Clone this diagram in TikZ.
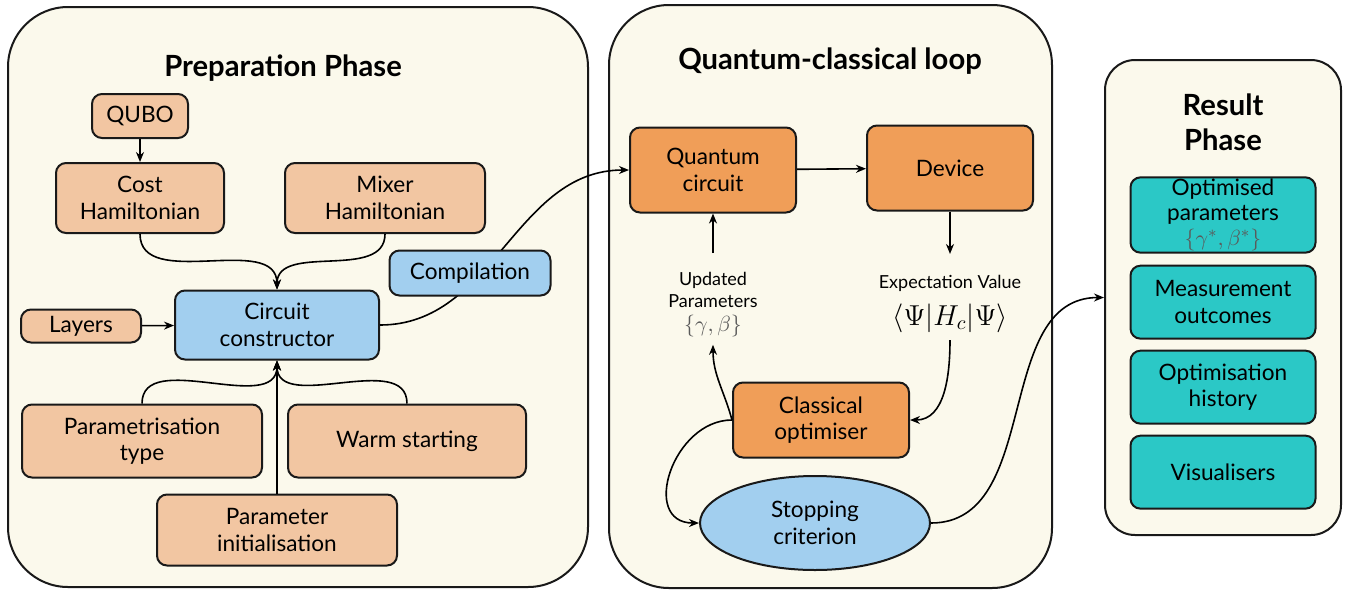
\documentclass[tikz,border=0pt]{standalone}
\usepackage{amsmath,amssymb}
\usepackage{fontspec}
\setmainfont{Lato}
\usepackage{tikz}
\usetikzlibrary{arrows.meta,positioning,shapes.geometric}

\definecolor{cream}{RGB}{251,249,236}
\definecolor{salmon}{RGB}{242,198,162}
\definecolor{skyblue}{RGB}{162,207,239}
\definecolor{qorange}{RGB}{240,158,88}
\definecolor{tealbox}{RGB}{43,200,198}
\definecolor{mathgray}{RGB}{90,90,90}

\tikzset{
  panel/.style={draw=black!90, line width=1pt, fill=cream, rounded corners=30pt},
  box/.style={draw=black!90, line width=1pt, rounded corners=5pt, align=center,
    font=\fontsize{11.3}{13.2}\selectfont, inner sep=2pt},
  pbox/.style={box, fill=salmon},
  cbox/.style={box, fill=skyblue},
  qbox/.style={box, fill=qorange},
  rbox/.style={box, fill=tealbox, minimum width=92.5pt, minimum height=36.5pt},
  title/.style={font=\fontsize{14.6}{17.5}\selectfont\bfseries, align=center},
  lbl/.style={font=\fontsize{9}{11}\selectfont, align=center}
}

\begin{document}
\begin{tikzpicture}[>={Stealth[length=5pt,width=4pt]}, x=0.5pt, y=-0.5pt, line width=0.8pt]
      \useasboundingbox (0,0) rectangle (1346,591);

      % panels
      \node[panel, minimum width=290pt, minimum height=290pt] (prepP) at (298,297) {};
      \node[panel, minimum width=221.5pt, minimum height=291.5pt] (loopP) at (830.5,296.5) {};
      \node[panel, rounded corners=15pt, minimum width=118pt, minimum height=237.5pt] (resP) at (1223,297.5) {};

      \node[title] (prepT) at (283,68) {Preparation Phase};
      \node[title] (loopT) at (830,61) {Quantum-classical loop};
      \node[title] (resT) at (1223,122) {Result\\Phase};

      % preparation phase
      \node[pbox, minimum width=48pt, minimum height=22pt] (qubo) at (140,116) {QUBO};
      \node[pbox, minimum width=84pt, minimum height=35pt] (cost) at (140,198) {Cost\\Hamiltonian};
      \node[pbox, minimum width=100pt, minimum height=35pt] (mixer) at (385,198) {Mixer\\Hamiltonian};
      \node[cbox, minimum width=102pt, minimum height=34.5pt] (circ) at (277,325) {Circuit\\constructor};
      \node[pbox, minimum width=60pt, minimum height=16.5pt] (layers) at (81,326) {Layers};
      \node[pbox, minimum width=120pt, minimum height=36.5pt] (ptype) at (142,441) {Parametrisation\\type};
      \node[pbox, minimum width=119pt, minimum height=36.5pt] (warm) at (407,441) {Warm starting};
      \node[pbox, minimum width=120pt, minimum height=35.5pt] (pinit) at (277,530) {Parameter\\initialisation};

      % quantum-classical loop
      \node[qbox, minimum width=83pt, minimum height=42.5pt] (qc) at (713,170) {Quantum\\circuit};
      \node[qbox, minimum width=83pt, minimum height=42.5pt] (dev) at (950,168) {Device};
      \node[lbl] (upd) at (713,305) {Updated\\Parameters\\[1pt]{\fontsize{11}{13}\selectfont\color{mathgray}$\{\gamma,\beta\}$}};
      \node[lbl] (expv) at (950,304) {Expectation Value\\[5pt]{\fontsize{14.5}{16}\selectfont$\langle\Psi|H_c|\Psi\rangle$}};
      \node[qbox, minimum width=88pt, minimum height=37.5pt] (copt) at (821,420) {Classical\\optimiser};
      \node[cbox, ellipse, minimum width=115pt, minimum height=47pt] (stop) at (815,523) {Stopping\\criterion};

      % result phase
      \node[rbox, font=\fontsize{11.3}{12.3}\selectfont, inner sep=1pt] (ropt) at (1223,215) {Optimised\\parameters\\{\color{mathgray}$\{\gamma^*,\beta^*\}$}};
      \node[rbox, below=5.5pt of ropt] (rmeas) {Measurement\\outcomes};
      \node[rbox, below=5pt of rmeas] (rhist) {Optimisation\\history};
      \node[rbox, below=5pt of rhist] (rvis) {Visualisers};

      \path[->]
        (qubo) edge (cost)
        (cost.south) edge[out=-90, in=90] (circ.north)
        (mixer.south) edge[out=-90, in=90] (circ.north)
        (layers) edge (circ)
        (ptype.north) edge[out=90, in=-90] (circ.south)
        (warm.north) edge[out=90, in=-90] (circ.south)
        (pinit) edge (circ)
        (circ.east) edge[out=0, in=180] (qc.west)
        (qc) edge (dev)
        (dev) edge[shorten >=7pt] (expv)
        (expv.south) edge[out=-90, in=0] (copt.east)
        (upd) edge[shorten <=6pt] (qc)
        (copt.west) edge[out=105, in=-90] (upd.south)
        (copt.west) edge[out=180, in=180, looseness=1.4] (stop.west)
        (stop.east) edge[out=0, in=180] (resP.west)
      ;

      % drawn over the compilation curve
      \node[cbox, minimum width=80.5pt, minimum height=22.5pt] (comp) at (470,273) {Compilation};
\end{tikzpicture}
\end{document}
